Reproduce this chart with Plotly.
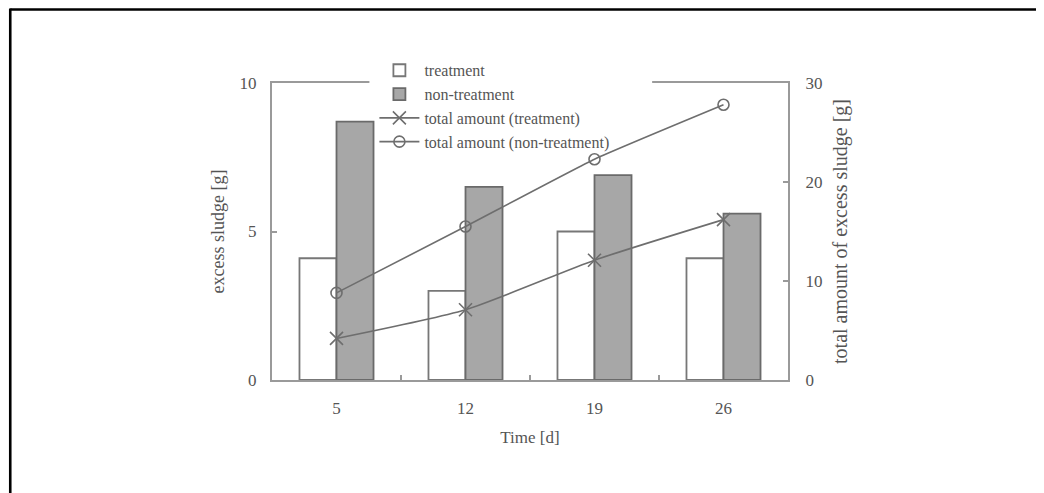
import plotly.graph_objects as go

# ---- data ----
days = ["5", "12", "19", "26"]
treatment = [4.1, 3.0, 5.0, 4.1]
non_treatment = [8.7, 6.5, 6.9, 5.6]
total_treatment = [4.2, 7.1, 12.1, 16.2]
total_non_treatment = [8.8, 15.5, 22.3, 27.8]

OFF = 8                      # page body margin
W, H = 1044 - OFF, 493 - OFF
# plot area in page pixels
PL, PR, PT, PB = 271.5, 788, 82.7, 380
L, R, T, B = PL - OFF, PR - OFF, PT - OFF, PB - OFF


def px_x(p):  # page px -> paper x
    return (p - OFF - L) / (R - L)


def px_y(p):  # page px -> paper y
    return (B - (p - OFF)) / (B - T)


FONT = "Liberation Serif"
TXT = "#555555"
AX = "#9a9a9a"
LN = "#6e6e6e"

fig = go.Figure()
fig.add_trace(go.Bar(x=days, y=treatment, name="treatment",
                     marker=dict(color="white", line=dict(color="#777777", width=1.8))))
fig.add_trace(go.Bar(x=days, y=non_treatment, name="non-treatment",
                     marker=dict(color="#a7a7a7", line=dict(color="#6a6a6a", width=1.8))))
fig.add_trace(go.Scatter(x=days, y=total_treatment, name="total amount (treatment)",
                         yaxis="y2", mode="lines+markers",
                         line=dict(color=LN, width=1.6, shape="spline", smoothing=0.6),
                         marker=dict(symbol="x-thin-open", size=13,
                                     line=dict(color=LN, width=1.6))))
fig.add_trace(go.Scatter(x=days, y=total_non_treatment, name="total amount (non-treatment)",
                         yaxis="y2", mode="lines+markers",
                         line=dict(color=LN, width=1.6, shape="spline", smoothing=0.4),
                         marker=dict(symbol="circle-open", size=11,
                                     line=dict(color=LN, width=1.6))))

fig.update_layout(
    width=W, height=H,
    margin=dict(l=L, r=W - R, t=T, b=H - B, pad=0),
    paper_bgcolor="white", plot_bgcolor="white",
    font=dict(family=FONT, size=17, color=TXT),
    barmode="group", bargap=0.426, bargroupgap=0,
    showlegend=True,
    legend=dict(x=px_x(374), y=px_y(53), xanchor="left", yanchor="top",
                bgcolor="rgba(0,0,0,0)", borderwidth=0,
                font=dict(family=FONT, size=16, color=TXT),
                itemwidth=40, tracegroupgap=0, traceorder="normal"),
    xaxis=dict(type="category", showline=True, linecolor=AX, linewidth=2,
               mirror=True, ticks="inside", tickson="boundaries", ticklen=5,
               tickcolor=AX, tickwidth=1.5, showgrid=False, zeroline=False,
               tickfont=dict(size=17, color=TXT), ticklabelstandoff=12,
               title=dict(text="Time [d]", font=dict(size=17, color=TXT), standoff=14)),
    yaxis=dict(range=[0, 10], dtick=5, showline=True, linecolor=AX, linewidth=2,
               ticks="inside", ticklen=5, tickcolor=AX, tickwidth=1.5,
               showgrid=False, zeroline=False,
               tickfont=dict(size=17, color=TXT), ticklabelstandoff=10,
               title=dict(text="excess sludge [g]", font=dict(size=18, color=TXT), standoff=10)),
    yaxis2=dict(range=[0, 30], dtick=10, overlaying="y", side="right",
                showline=True, linecolor=AX, linewidth=2,
                ticks="inside", ticklen=5, tickcolor=AX, tickwidth=1.5,
                showgrid=False, zeroline=False,
                tickfont=dict(size=17, color=TXT), ticklabelstandoff=12,
                title=dict(text="total amount of excess sludge [g]",
                           font=dict(size=20, color=TXT), standoff=12)),
    shapes=[
        # white patch where legend interrupts the top frame line
        dict(type="rect", xref="paper", yref="paper",
             x0=px_x(369), x1=px_x(652), y0=px_y(86), y1=px_y(78),
             fillcolor="white", line=dict(width=0), layer="above"),
        # outer figure frame (top and left)
        dict(type="line", xref="paper", yref="paper",
             x0=px_x(9.5), x1=px_x(1060), y0=px_y(9.2), y1=px_y(9.2),
             line=dict(color="black", width=2.6), layer="above"),
        dict(type="line", xref="paper", yref="paper",
             x0=px_x(9.5), x1=px_x(9.5), y0=px_y(8), y1=px_y(510),
             line=dict(color="black", width=2.6), layer="above"),
    ],
)

fig.write_html("out.html")
